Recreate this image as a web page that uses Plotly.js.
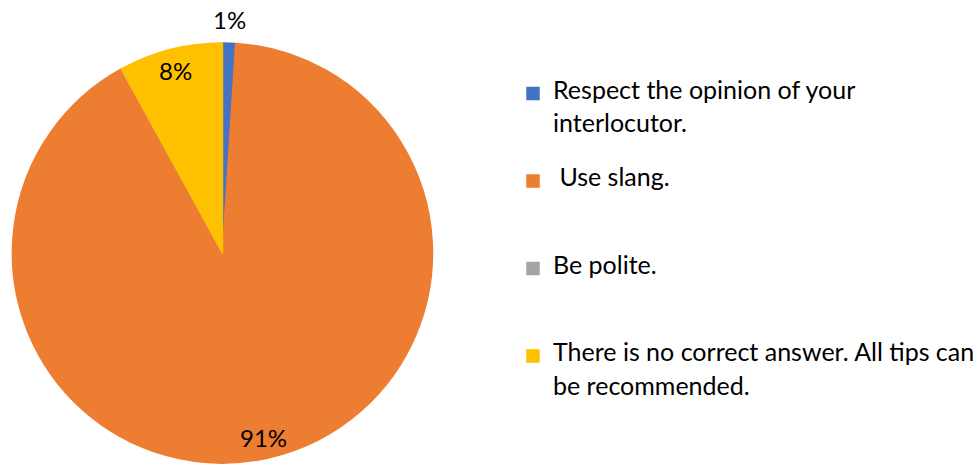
<!DOCTYPE html>
<html>
<head>
<meta charset="utf-8">
<script src="https://cdn.plot.ly/plotly-3.0.1.min.js"></script>
<style>html,body{margin:0;padding:0;background:#fff;}#chart{width:980px;height:465px;}</style>
</head>
<body>
<div id="chart"></div>
<script>
// Data
const categories = [
  "Respect the opinion of your<br>interlocutor.",
  "\u00a0Use slang.",
  "Be polite.",
  "There is no correct answer. All tips can<br>be recommended."
];
const shares = [1, 91, 0, 8];
const sliceColors = ["#4472C4", "#ED7D31", "#A5A5A5", "#FFC000"];

const W = 980, H = 465;
const FONT = "Lato, 'Liberation Sans', Arial, sans-serif";
const LEG_SIZE = 13;   // base size sets the legend line pitch
const GLYPH = 25;      // visible glyph size in the legend
const DOM_X = [0.0128, 0.4454], DOM_Y = [0, 0.9118];

const total = shares.reduce((a, b) => a + b, 0);
const pctText = shares.map(v => Math.round(100 * v / total) + "%");

// Legend labels: pad each entry to 5 base lines, text on lines 1 and 3
const legendLabels = categories.map(c => {
  const parts = c.split("<br>");
  const l1 = parts[0], l2 = parts[1] || "";
  const sp = s => s ? '<span style="font-size:' + GLYPH + 'px">' + s + '</span>' : " ";
  return sp(l1) + "<br> <br>" + sp(l2) + "<br> <br> ";
});

// Percentage labels placed along each slice's mid-angle (derived from the data)
const cx = (DOM_X[0] + DOM_X[1]) / 2 * W;
const cy = (1 - (DOM_Y[0] + DOM_Y[1]) / 2) * H;
const R = Math.min((DOM_X[1] - DOM_X[0]) * W, (DOM_Y[1] - DOM_Y[0]) * H) / 2;
const annotations = [];
let cum = 0;
shares.forEach((v, i) => {
  const frac = v / total;
  const mid = (cum + frac / 2) * 2 * Math.PI;
  cum += frac;
  if (v === 0) return;
  const dist = frac < 0.03 ? R + 22 : R * 0.89;
  const px = cx + dist * Math.sin(mid);
  const py = cy - dist * Math.cos(mid);
  annotations.push({
    xref: "paper", yref: "paper",
    x: px / W, y: 1 - py / H,
    xanchor: "center", yanchor: "middle",
    text: pctText[i], showarrow: false,
    font: { family: FONT, size: 24, color: "#000000" }
  });
});

const trace = {
  type: "pie",
  labels: legendLabels,
  values: shares,
  textinfo: "none",
  sort: false,
  direction: "clockwise",
  rotation: 0,
  marker: { colors: sliceColors, line: { color: sliceColors, width: 1.5 } },
  domain: { x: DOM_X, y: DOM_Y },
  hoverinfo: "percent",
  showlegend: true
};

const layout = {
  width: W,
  height: H,
  margin: { l: 0, r: 0, t: 0, b: 0 },
  paper_bgcolor: "#ffffff",
  plot_bgcolor: "#ffffff",
  font: { family: FONT, color: "#000000" },
  showlegend: true,
  annotations: annotations,
  legend: {
    x: 518 / W,
    xanchor: "left",
    y: 1 - 78.5 / H,
    yanchor: "top",
    valign: "top",
    font: { family: FONT, size: LEG_SIZE, color: "#000000" },
    bgcolor: "rgba(0,0,0,0)",
    borderwidth: 0,
    traceorder: "normal"
  }
};

Plotly.newPlot("chart", [trace], layout, { displayModeBar: false, staticPlot: true });
</script>
</body>
</html>
